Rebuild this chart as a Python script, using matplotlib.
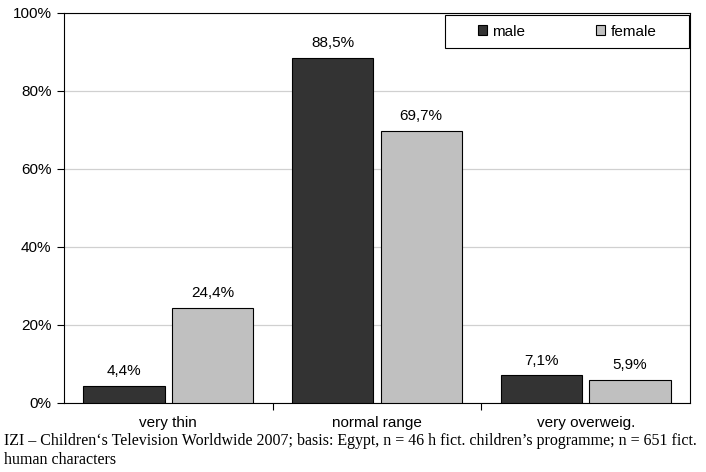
import matplotlib
matplotlib.use("Agg")
import matplotlib.pyplot as plt
from matplotlib.patches import Rectangle
import numpy as np

categories = ["very thin", "normal range", "very overweig."]
male = [4.4, 88.5, 7.1]
female = [24.4, 69.7, 5.9]
series_names = ["male", "female"]
yticks = [0, 20, 40, 60, 80, 100]
caption = ("IZI – Children‘s Television Worldwide 2007; basis: Egypt, n = 46 h fict. children’s programme; n = 651 fict.\n"
           "human characters")

plt.rcParams['font.family'] = ['Liberation Sans', 'DejaVu Sans']
FS = 11

fig = plt.figure(figsize=(7.06, 4.72), dpi=100)
ax = fig.add_axes([64/706, 1 - 403/472, (690-64)/706, (403-13)/472])

x = np.arange(len(categories))
w = 0.39
off = 0.212
b1 = ax.bar(x - off, male, w, color="#333333", edgecolor="black", linewidth=0.8, label=series_names[0], zorder=3)
b2 = ax.bar(x + off, female, w, color="#c0c0c0", edgecolor="black", linewidth=0.8, label=series_names[1], zorder=3)

for bars, vals in ((b1, male), (b2, female)):
    for r, v in zip(bars, vals):
        ax.text(r.get_x() + r.get_width()/2, v + 2.0, f"{v:.1f}%".replace(".", ","),
                ha="center", va="bottom", fontsize=FS)

ax.set_xlim(-0.5, 2.5)
ax.set_ylim(0, 100)
ax.set_yticks(yticks)
ax.set_yticklabels([f"{t}%" for t in yticks], fontsize=FS)
ax.yaxis.grid(True, color="#d0d0d0", linewidth=0.9, zorder=0)
ax.set_xticks([0.5, 1.5])
ax.set_xticklabels([])
ax.set_xticks(x, minor=True)
ax.set_xticklabels(categories, minor=True, fontsize=FS)
ax.tick_params(axis="x", which="minor", length=0, pad=9)
ax.tick_params(axis="x", which="major", direction="out", length=5, width=0.8)
ax.tick_params(axis="y", direction="out", length=5, width=0.8, pad=4)
for s in ax.spines.values():
    s.set_linewidth(0.8)
    s.set_color("black")

# legend box
bx0, bx1 = (445 - 64) / 626, (689 - 64) / 626
by0, by1 = 1 - (48 - 13) / 390, 1 - (15 - 13) / 390
ax.add_patch(Rectangle((bx0, by0), bx1 - bx0, by1 - by0, transform=ax.transAxes,
                       facecolor="white", edgecolor="black", linewidth=0.8, zorder=4))
leg = ax.legend(loc="center", ncol=2, fontsize=FS, frameon=False,
                handlelength=0.6, handleheight=0.6, handletextpad=0.33,
                columnspacing=4.65, borderpad=0, borderaxespad=0,
                bbox_to_anchor=((bx0 + bx1) / 2, (by0 + by1) / 2))
leg.set_zorder(5)

fig.text(4/706, 1 - 433/472, caption, family=["Liberation Serif", "DejaVu Serif"],
         fontsize=11.5, va="top", ha="left", linespacing=1.25)

fig.savefig("out.png", dpi=100)
